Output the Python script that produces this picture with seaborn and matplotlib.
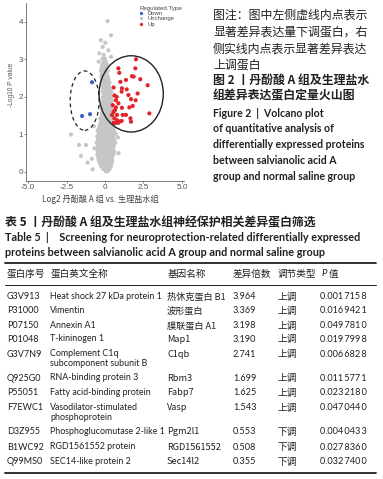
import matplotlib
matplotlib.use("Agg")
import matplotlib.pyplot as plt
from matplotlib.patches import Ellipse
import pandas as pd
import seaborn as sns


# --- volcano plot data (log2 fold change, -log10 p) ---

down_fc = [-0.84, -1.49, -0.97]
down_p = [2.39, 1.49, 1.54]

up_fc = [2.01, 1.97, 0.87, 0.93, 1.86, 2.29, 1.75, 1.36, 1.00, 2.77,
         0.56, 1.10, 1.41, 1.08, 1.52, 0.76, 0.61, 2.12, 1.69, 0.71,
         0.87, 0.50, 0.71, 1.10, 1.80, 1.58, 1.99, 0.65, 0.56, 0.45,
         0.78, 1.15, 1.36, 2.88, 0.61, 0.78, 0.93, 0.71, 1.08, 1.65,
         1.69, 0.56, 0.87]
up_p = [3.00, 2.76, 2.76, 2.64, 2.54, 2.47, 2.55, 2.45, 2.40, 2.31,
        2.25, 2.23, 2.20, 2.14, 2.05, 2.00, 2.04, 2.09, 1.94, 1.91,
        1.83, 1.78, 1.72, 1.71, 1.76, 1.72, 1.91, 1.65, 1.60, 1.52,
        1.52, 1.52, 1.52, 1.56, 1.43, 1.38, 1.34, 1.31, 1.36, 1.43,
        1.34, 1.31, 1.31]

# grey cloud, one row of points per -log10 p level
unchange_rows = {
    0.02: [0.05, 0.18],
    0.08: [-0.12, 0.02, 0.15, 0.30],
    0.15: [-0.25, -0.05, 0.10, 0.24, 0.38],
    0.22: [-0.32, -0.15, 0.00, 0.14, 0.28, 0.42],
    0.30: [-0.40, -0.22, -0.06, 0.08, 0.22, 0.35, 0.48],
    0.38: [-0.45, -0.28, -0.12, 0.03, 0.18, 0.31, 0.45],
    0.46: [-0.50, -0.33, -0.18, -0.02, 0.12, 0.27, 0.40, 0.55],
    0.54: [-0.48, -0.30, -0.14, 0.01, 0.16, 0.30, 0.44, 0.60],
    0.62: [-0.52, -0.36, -0.20, -0.04, 0.10, 0.25, 0.38, 0.52],
    0.70: [-0.47, -0.30, -0.15, 0.00, 0.14, 0.28, 0.42, 0.57],
    0.78: [-0.55, -0.38, -0.22, -0.06, 0.09, 0.23, 0.37, 0.50, 0.66],
    0.86: [-0.45, -0.28, -0.12, 0.03, 0.17, 0.31, 0.45, 0.60],
    0.94: [-0.50, -0.34, -0.18, -0.02, 0.12, 0.26, 0.40, 0.55],
    1.02: [-0.42, -0.26, -0.10, 0.05, 0.19, 0.33, 0.48, 0.70],
    1.10: [-0.48, -0.32, -0.16, 0.00, 0.14, 0.28, 0.42, 0.58],
    1.18: [-0.38, -0.22, -0.06, 0.09, 0.23, 0.37, 0.52],
    1.26: [-0.33, -0.17, -0.01, 0.14, 0.28, 0.42, 0.57],
    1.34: [-0.28, -0.12, 0.04, 0.18, 0.32, 0.46],
    1.42: [-0.30, -0.14, 0.01, 0.15, 0.29, 0.44],
    1.50: [-0.22, -0.07, 0.08, 0.22, 0.36, 0.50],
    1.58: [-0.18, -0.03, 0.12, 0.26, 0.40],
    1.66: [-0.20, -0.05, 0.10, 0.24, 0.38, 0.52],
    1.74: [-0.14, 0.01, 0.15, 0.29, 0.43],
    1.82: [-0.18, -0.03, 0.12, 0.26, 0.40],
    1.90: [-0.12, 0.03, 0.17, 0.31, 0.45],
    1.98: [-0.15, 0.00, 0.14, 0.28, 0.42],
    2.06: [-0.10, 0.05, 0.19, 0.33],
    2.14: [-0.16, -0.01, 0.13, 0.27, 0.41],
    2.22: [-0.12, 0.03, 0.17, 0.31],
    2.30: [-0.18, -0.03, 0.11, 0.25],
    2.38: [-0.14, 0.01, 0.15, 0.29],
    2.46: [-0.20, -0.05, 0.09, 0.23],
    2.54: [-0.24, -0.09, 0.05, 0.19],
    2.62: [-0.20, -0.05, 0.10],
    2.70: [-0.26, -0.11, 0.04, 0.18],
    2.78: [-0.22, -0.07, 0.08],
    2.86: [-0.18, -0.02, 0.12],
    2.94: [-0.41, -0.10, 0.05],
    3.02: [-0.15, 0.00],
    3.07: [0.39],
    3.12: [-0.08],
    3.16: [-0.37],
    3.24: [0.22],
    3.33: [-0.15],
    3.44: [0.02],
    3.51: [-0.26],
    3.64: [0.39],
    4.02: [0.17],
}
unchange_extra_fc = [-2.21, -1.69, -1.23, -1.56, -1.13, -0.80, -0.69, -0.85, -0.72, 0.88, 0.84]
unchange_extra_p = [1.00, 0.72, 0.72, 0.43, 0.25, 0.07, 0.63, 0.35, 1.22, 0.50, 0.92]

x_ticks = [-5.0, -2.5, 0, 2.5, 5.0]
x_tick_labels = ["-5.0", "-2.5", "0", "2.5", "5.0"]
y_ticks = [0, 1, 2, 3, 4]

# --- caption and table text ---

note_lines = ["图注：图中左侧虚线内点表示", "显著差异表达量下调蛋白，右",
              "侧实线内点表示显著差异表达", "上调蛋白"]
fig_title_cn = ["图 2 丨丹酚酸 A 组及生理盐水", "组差异表达蛋白定量火山图"]
fig_title_en = ["Figure 2  |  Volcano plot", "of quantitative analysis of",
                "differentially expressed proteins", "between salvianolic acid A",
                "group and normal saline group"]

table_title_cn = "表 5 丨丹酚酸 A 组及生理盐水组神经保护相关差异蛋白筛选"
table_title_en = ["Table 5  |    Screening for neuroprotection-related differentially expressed",
                  "proteins between salvianolic acid A group and normal saline group"]
table_header = ["蛋白序号", "蛋白英文全称", "基因名称", "差异倍数", "调节类型"]

protein_ids = ["G3V913", "P31000", "P07150", "P01048", "G3V7N9", "Q925G0",
               "P55051", "F7EWC1", "D3Z955", "B1WC92", "Q99MS0"]
protein_names = ["Heat shock 27 kDa protein 1", "Vimentin", "Annexin A1", "T-kininogen 1",
                 "Complement C1q\nsubcomponent subunit B", "RNA-binding protein 3",
                 "Fatty acid-binding protein", "Vasodilator-stimulated\nphosphoprotein",
                 "Phosphoglucomutase 2-like 1", "RGD1561552 protein", "SEC14-like protein 2"]
gene_names = ["热休克蛋白 B1", "波形蛋白", "膜联蛋白 A1", "Map1", "C1qb", "Rbm3",
              "Fabp7", "Vasp", "Pgm2l1", "RGD1561552", "Sec14l2"]
fold_changes = [3.964, 3.369, 3.198, 3.190, 2.741, 1.699, 1.625, 1.543, 0.553, 0.508, 0.355]
reg_types = ["上调"] * 8 + ["下调"] * 3
p_values = [0.0017158, 0.0169421, 0.0497810, 0.0197998, 0.0066828, 0.0115771,
            0.0232180, 0.0470440, 0.0040433, 0.0278360, 0.0327400]


# --- build data frame ---

gray_fc, gray_p = [], []
for p, xs in unchange_rows.items():
    gray_fc += xs
    gray_p += [p] * len(xs)
gray_fc += unchange_extra_fc
gray_p += unchange_extra_p

df = pd.DataFrame({
    "log2fc": gray_fc + down_fc + up_fc,
    "logp": gray_p + down_p + up_p,
    "Regulated.Type": ["Unchange"] * len(gray_fc) + ["Down"] * len(down_fc) + ["Up"] * len(up_fc),
})

sns.set_style("ticks")
plt.rcParams["font.family"] = ["Lato", "Noto Sans CJK SC", "DejaVu Sans"]

CJK = ["Noto Sans CJK SC", "DejaVu Sans"]
LAT = ["Lato", "DejaVu Sans"]
INK = "#231f20"
W, H = 383, 479

fig = plt.figure(figsize=(W / 100, H / 100), dpi=100)

# page overlay in pixel coordinates
page = fig.add_axes([0, 0, 1, 1])
page.set_xlim(0, W)
page.set_ylim(H, 0)
page.axis("off")

# volcano plot
ax = fig.add_axes([26 / W, 1 - 181 / H, 158 / W, 178 / H])
sns.scatterplot(data=df, x="log2fc", y="logp", hue="Regulated.Type",
                hue_order=["Down", "Unchange", "Up"],
                palette={"Down": "#3b62c6", "Unchange": "#c6c6c6", "Up": "#e3242b"},
                s=9, linewidth=0, ax=ax)
ax.add_patch(Ellipse((-1.32, 1.90), 1.88, 1.58, fill=False, ec="#222222",
                     lw=0.9, ls=(0, (3, 2.5))))
ax.add_patch(Ellipse((1.70, 2.08), 4.17, 2.03, fill=False, ec="#222222", lw=1.0))

ax.set_xlim(-5.13, 5.13)
ax.set_ylim(-0.24, 4.5)
ax.set_xticks(x_ticks)
ax.set_xticklabels(x_tick_labels)
ax.set_yticks(y_ticks)
ax.tick_params(labelsize=5.9, colors="#555555", length=1.5, width=0.5, pad=0.5)
for lab in ax.get_xticklabels() + ax.get_yticklabels():
    lab.set_family("Liberation Sans")
sns.despine(ax=ax)
for side in ["left", "bottom"]:
    ax.spines[side].set_color("#666666")
    ax.spines[side].set_linewidth(0.6)

# x label placed on the page, just under the tick labels
ax.set_xlabel("")
page.text(100, 199, "Log2 丹酚酸 A 组 vs. 生理盐水组", family=CJK, fontsize=5.9,
          color="#444444", ha="center", va="center")
ax.set_ylabel("-Log10 P value", family="Liberation Sans", fontsize=4.8, color="#555555")
ax.yaxis.set_label_coords((15 - 26) / 158, (181 - 85) / 178)

sns.move_legend(ax, "upper left", bbox_to_anchor=((139 - 26) / 158, 0.985),
                frameon=False, fontsize=4.2, title_fontsize=4.4, alignment="left",
                handlelength=0.6, handletextpad=0.8, labelspacing=0.05,
                borderpad=0, borderaxespad=0, markerscale=0.8)
leg = ax.get_legend()
for t in leg.get_texts() + [leg.get_title()]:
    t.set_family("Liberation Sans")
    t.set_color("#444444")

# figure caption, right of the plot
for y, line in zip([15, 32.5, 49, 65], note_lines):
    page.text(213, y, line, family=CJK, fontsize=8.6, color=INK, va="center")
for y, line in zip([80, 96], fig_title_cn):
    page.text(213, y, line, family=CJK, fontsize=8.6, weight="bold", color=INK, va="center")
for y, line in zip([113, 128.5, 145, 161, 176.5], fig_title_en):
    page.text(213, y, line, family=LAT, fontsize=7.6, weight="bold", color=INK, va="center")

# table title
page.text(5, 223, table_title_cn, family=CJK, fontsize=8.6, weight="bold", color=INK, va="center")
for y, line in zip([237.5, 252.5], table_title_en):
    page.text(5, y, line, family=LAT, fontsize=7.8, weight="bold", color=INK, va="center")

# table rules
page.plot([5, 376], [262.5, 262.5], color=INK, lw=1.3)
page.plot([5, 376], [285, 285], color=INK, lw=0.7)
page.plot([5, 376], [472.5, 472.5], color=INK, lw=1.3)

# header
for x, lab in zip([7, 51, 168, 233, 278], table_header):
    page.text(x, 274, lab, family=CJK, fontsize=6.9, color=INK, va="center")
page.text(322, 274, "P", family=LAT, fontsize=6.9, style="italic", color=INK, va="center")
page.text(328.5, 274, "值", family=CJK, fontsize=6.9, color=INK, va="center")

# rows
row_y = [296.7, 310.7, 325.7, 339.3, 354.3, 378.3, 392.7, 407.7, 431.7, 447, 461.7]
for i, y in enumerate(row_y):
    page.text(7, y, protein_ids[i], family=LAT, fontsize=6.5, color=INK, va="center")
    page.text(50, y - 5, protein_names[i], family=LAT, fontsize=6.4, color=INK,
              va="top", linespacing=1.15)
    page.text(167, y, gene_names[i], family=CJK, fontsize=6.6, color=INK, va="center")
    page.text(233, y, f"{fold_changes[i]:.3f}", family=LAT, fontsize=6.6, color=INK, va="center")
    page.text(277, y, reg_types[i], family=CJK, fontsize=7.0, color=INK, va="center")
    s = f"{p_values[i]:.7f}"
    page.text(320, y, s[:5] + "\u2009" + s[5:8] + "\u2009" + s[8:], family=LAT,
              fontsize=6.6, color=INK, va="center")

fig.savefig("out.png", dpi=100)
